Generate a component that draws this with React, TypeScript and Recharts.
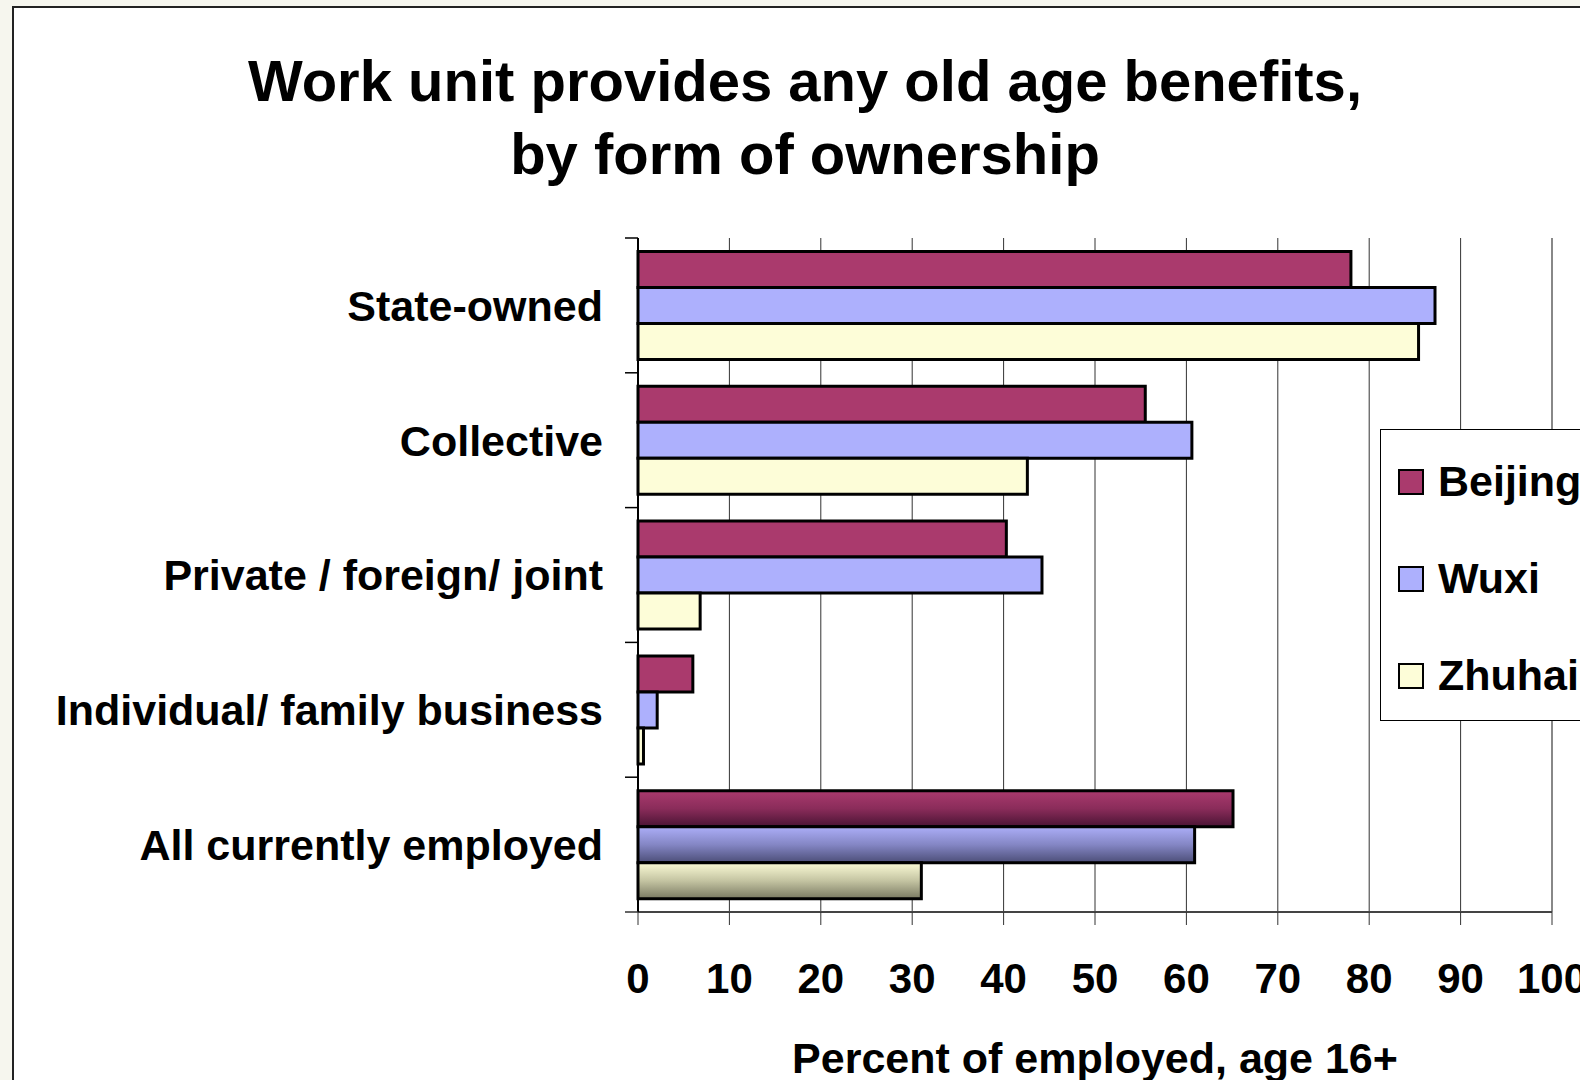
import { BarChart, Bar, XAxis, YAxis, CartesianGrid, Legend, ReferenceLine, Cell, Label } from 'recharts'

const CATEGORIES = [
  'State-owned',
  'Collective',
  'Private / foreign/ joint',
  'Individual/ family business',
  'All currently employed',
]
const BEIJING = [78, 55.5, 40.3, 6, 65.1]
const WUXI = [87.2, 60.6, 44.2, 2.1, 60.9]
const ZHUHAI = [85.4, 42.6, 6.8, 0.6, 31]
const X_TICKS = [0, 10, 20, 30, 40, 50, 60, 70, 80, 90, 100]
// the summary row is drawn with a shaded fill
const SHADED = ['All currently employed']

const FONT = '"Liberation Sans", Arial, sans-serif'

const SERIES = [
  { key: 'Beijing', values: BEIJING, color: '#AA3A6D', grad: 'gradBeijing' },
  { key: 'Wuxi', values: WUXI, color: '#ADB0FD', grad: 'gradWuxi' },
  { key: 'Zhuhai', values: ZHUHAI, color: '#FDFDD8', grad: 'gradZhuhai' },
]

const data = CATEGORIES.map((name, i) => ({
  name,
  Beijing: BEIJING[i],
  Wuxi: WUXI[i],
  Zhuhai: ZHUHAI[i],
}))

function CategoryTick(props: any) {
  const { x, y, payload, index, visibleTicksCount } = props
  const half = payload.offset || 0
  const axisX = x + 35
  return (
    <g>
      <text x={x} y={y} dy="0.36em" textAnchor="end" fontFamily={FONT} fontWeight="bold" fontSize={43} fill="#000">
        {payload.value}
      </text>
      <line x1={axisX - 13} x2={axisX} y1={y - half} y2={y - half} stroke="#000" strokeWidth={1.5} />
      {index === visibleTicksCount - 1 && (
        <line x1={axisX - 13} x2={axisX} y1={y + half} y2={y + half} stroke="#333" strokeWidth={1.5} />
      )}
    </g>
  )
}

function LegendBox({ payload }: any) {
  return (
    <div style={{ width: 260, height: 292, border: '1.5px solid #000', background: '#fff', paddingTop: 3, boxSizing: 'border-box' }}>
      {(payload || []).map((p: any) => (
        <div key={p.value} style={{ height: 97, display: 'flex', alignItems: 'center', paddingLeft: 17 }}>
          <span style={{ width: 22, height: 22, background: p.color, border: '2px solid #000', marginRight: 14, flex: 'none' }} />
          <span style={{ fontFamily: FONT, fontWeight: 'bold', fontSize: 43, color: '#000', lineHeight: 1 }}>{p.value}</span>
        </div>
      ))}
    </div>
  )
}

export default function App() {
  return (
    <div style={{ position: 'absolute', left: 0, top: 0, width: 1580, height: 1080, overflow: 'hidden', background: '#F6F6EE' }}>
      <div style={{ position: 'absolute', left: 12, top: 6, width: 1620, height: 1120, border: '2px solid #222', background: '#fff' }} />
      <div
        style={{
          position: 'absolute', left: 0, top: 44, width: 1610, textAlign: 'center',
          fontFamily: FONT, fontWeight: 'bold', fontSize: 58, lineHeight: '73px', color: '#000',
        }}
      >
        Work unit provides any old age benefits,
        <br />
        by form of ownership
      </div>
      <div style={{ position: 'absolute', left: 0, top: 0 }}>
        <BarChart
          width={1580}
          height={1080}
          data={data}
          layout="vertical"
          margin={{ top: 238, right: 28, left: 0, bottom: 0 }}
          barCategoryGap="10%"
          barGap={0}
        >
          <defs>
            <linearGradient id="gradBeijing" x1="0" y1="0" x2="0" y2="1">
              <stop offset="0%" stopColor="#AA3A6E" />
              <stop offset="50%" stopColor="#8A2C5A" />
              <stop offset="100%" stopColor="#4A1434" />
            </linearGradient>
            <linearGradient id="gradWuxi" x1="0" y1="0" x2="0" y2="1">
              <stop offset="0%" stopColor="#ACAEF8" />
              <stop offset="50%" stopColor="#8486C4" />
              <stop offset="100%" stopColor="#4C4E78" />
            </linearGradient>
            <linearGradient id="gradZhuhai" x1="0" y1="0" x2="0" y2="1">
              <stop offset="0%" stopColor="#FBFBD6" />
              <stop offset="50%" stopColor="#C4C4A2" />
              <stop offset="100%" stopColor="#7A7A62" />
            </linearGradient>
          </defs>
          <CartesianGrid horizontal={false} stroke="#333" strokeWidth={1} />
          <XAxis
            type="number"
            domain={[0, 100]}
            ticks={X_TICKS}
            height={168}
            tickSize={13}
            tickMargin={38}
            axisLine={{ stroke: '#444', strokeWidth: 2 }}
            tickLine={{ stroke: '#333', strokeWidth: 1 }}
            tick={{ fill: '#000', fontSize: 42, fontWeight: 'bold', fontFamily: FONT }}
            interval={0}
          >
            <Label
              value="Percent of employed, age 16+"
              position="insideBottom"
              offset={7}
              fill="#000"
              fontSize={43}
              fontWeight="bold"
              fontFamily={FONT}
            />
          </XAxis>
          <XAxis
            xAxisId="top"
            type="number"
            domain={[0, 100]}
            orientation="top"
            height={0}
            tick={false}
            tickLine={false}
            axisLine={{ stroke: '#888', strokeWidth: 2 }}
          />
          <YAxis
            type="category"
            dataKey="name"
            width={638}
            tickSize={13}
            tickMargin={22}
            tickLine={false}
            axisLine={{ stroke: '#000', strokeWidth: 2 }}
            tick={<CategoryTick />}
            interval={0}
          />
          <ReferenceLine x={100} stroke="#888" strokeWidth={2} />
          <Legend
            layout="vertical"
            align="center"
            verticalAlign="middle"
            wrapperStyle={{ left: 1380, top: 429, width: 260 }}
            content={<LegendBox />}
          />
          {SERIES.map(s => (
            <Bar key={s.key} dataKey={s.key} fill={s.color} stroke="#000" strokeWidth={3} isAnimationActive={false}>
              {CATEGORIES.map(c => (
                <Cell key={c} fill={SHADED.includes(c) ? `url(#${s.grad})` : s.color} />
              ))}
            </Bar>
          ))}
        </BarChart>
      </div>
    </div>
  )
}
